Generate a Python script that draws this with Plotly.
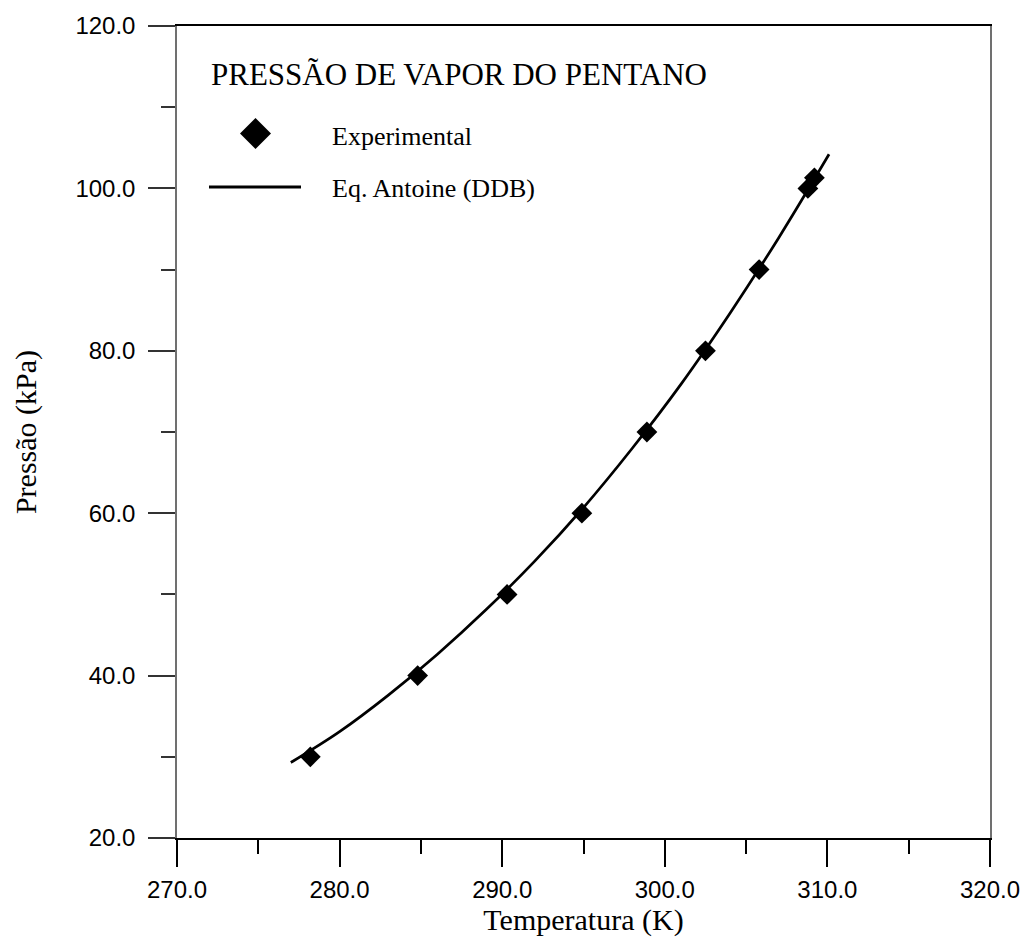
import plotly.graph_objects as go

# Experimental vapour pressure of n-pentane
temp_exp = [278.2, 284.8, 290.3, 294.9, 298.9, 302.5, 305.8, 308.8, 309.2]
pres_exp = [30.0, 40.0, 50.0, 60.0, 70.0, 80.0, 90.0, 100.0, 101.3]

# Antoine equation curve (DDB parameters), sampled along the curve
temp_ant = [277.0, 280.0, 283.0, 286.0, 289.0, 292.0, 295.0, 298.0, 301.0, 304.0, 307.0, 310.1]
pres_ant = [29.3, 33.1, 37.6, 42.6, 48.1, 54.1, 60.7, 68.0, 75.9, 84.6, 93.9, 104.2]

title_text = "PRESSÃO DE VAPOR DO PENTANO"
legend_names = ["Experimental", "Eq. Antoine (DDB)"]
x_label = "Temperatura (K)"
y_label = "Pressão (kPa)"

SERIF = "Liberation Serif, Times New Roman, serif"
SANS = "Liberation Sans, Arial, sans-serif"

W, H = 1025, 943
ML, MR, MT, MB = 177, 35, 26, 105
PW, PH = W - ML - MR, H - MT - MB


def px(x):
    return (x - ML) / PW


def py(y):
    return (H - MB - y) / PH


fig = go.Figure()

fig.add_trace(go.Scatter(
    x=temp_ant, y=pres_ant, mode="lines", name=legend_names[1],
    line=dict(color="black", width=2.7, shape="spline", smoothing=1.0),
    showlegend=False,
))
fig.add_trace(go.Scatter(
    x=temp_exp, y=pres_exp, mode="markers", name=legend_names[0],
    marker=dict(symbol="diamond", size=16, color="black"),
    showlegend=False,
))

# Hand-drawn key inside the plot area
fig.add_shape(type="path", xref="paper", yref="paper",
              xsizemode="pixel", ysizemode="pixel",
              xanchor=px(255.5), yanchor=py(133.5),
              path="M -15.5 0 L 0 15.5 L 15.5 0 L 0 -15.5 Z",
              fillcolor="black", line=dict(width=0))
fig.add_shape(type="line", xref="paper", yref="paper",
              x0=px(209), x1=px(301), y0=py(187), y1=py(187),
              line=dict(color="black", width=2.8))

fig.add_annotation(text=title_text, xref="paper", yref="paper",
                   x=px(209), y=py(75), xanchor="left", yanchor="middle",
                   showarrow=False, font=dict(family=SERIF, size=31, color="black"))
fig.add_annotation(text=legend_names[0], xref="paper", yref="paper",
                   x=px(330), y=py(136), xanchor="left", yanchor="middle",
                   showarrow=False, font=dict(family=SERIF, size=26, color="black"))
fig.add_annotation(text=legend_names[1], xref="paper", yref="paper",
                   x=px(330), y=py(188), xanchor="left", yanchor="middle",
                   showarrow=False, font=dict(family=SERIF, size=26, color="black"))

fig.update_xaxes(
    range=[270, 320], dtick=10, tick0=270, tickformat=".1f",
    ticks="outside", ticklen=27, tickwidth=1.5, tickcolor="black",
    minor=dict(dtick=5, tick0=270, ticks="outside", ticklen=14, tickwidth=1.5, tickcolor="black"),
    showline=True, linecolor="black", linewidth=1.5, mirror=True,
    showgrid=False, zeroline=False,
    tickfont=dict(family=SANS, size=24, color="black"),
    ticklabelstandoff=2,
    title=dict(text=x_label, font=dict(family=SERIF, size=30, color="black"), standoff=4),
)
fig.update_yaxes(
    range=[20, 120], dtick=20, tick0=20, tickformat=".1f",
    ticks="outside", ticklen=27, tickwidth=1.5, tickcolor="#333",
    minor=dict(dtick=10, tick0=20, ticks="outside", ticklen=14, tickwidth=1.5, tickcolor="#333"),
    showline=True, linecolor="#707070", linewidth=1.5, mirror=True,
    showgrid=False, zeroline=False,
    tickfont=dict(family=SANS, size=24, color="black"),
    ticklabelstandoff=8,
    title=dict(text=y_label, font=dict(family=SERIF, size=30, color="black"), standoff=30),
)

fig.update_layout(
    width=W, height=H,
    margin=dict(l=ML, r=MR, t=MT, b=MB, autoexpand=False),
    plot_bgcolor="white", paper_bgcolor="white",
    showlegend=False,
)

fig.write_html("out.html")
